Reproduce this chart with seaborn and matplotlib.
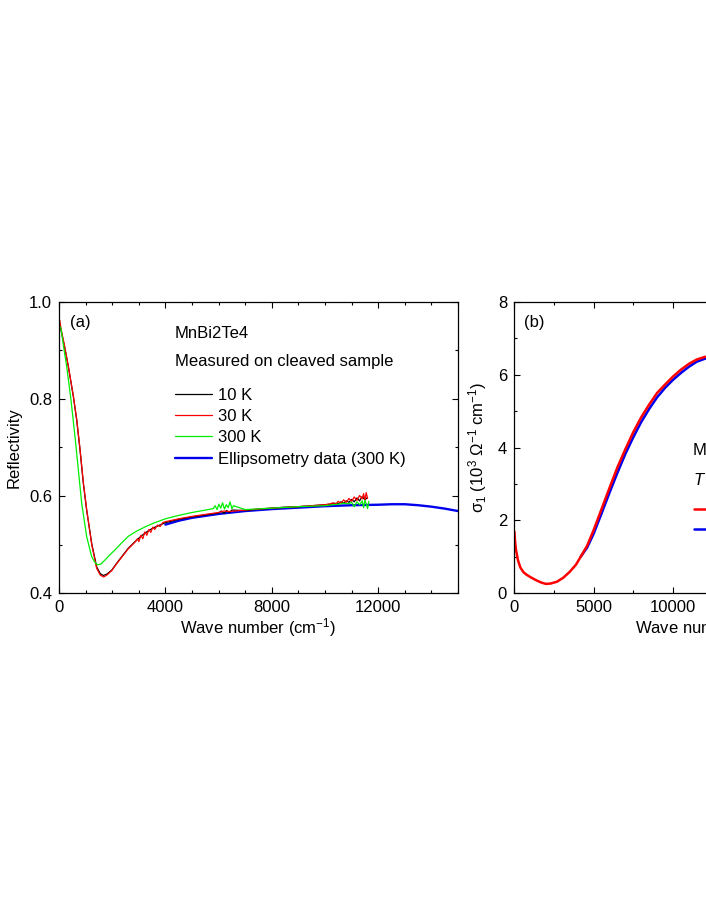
import matplotlib
matplotlib.use("Agg")
import matplotlib.pyplot as plt
from matplotlib.ticker import MultipleLocator
import seaborn as sns

# (a) reflectivity
WN_10K = [30, 75, 200, 350, 540, 665, 790, 915, 1040, 1230, 1415, 1550, 1666, 1800, 1980,
          2150, 2360, 2600, 2860, 3100, 3300, 3500, 3700, 4000, 4500, 5000, 5500, 6000, 6100,
          6200, 6300, 6400, 6500, 7000, 7500, 8000, 8500, 9000, 9500, 10000, 10200, 10350,
          10500, 10600, 10700, 10800, 10900, 11000, 11100, 11200, 11300, 11400, 11500, 11600]
R_10K = [0.955, 0.942, 0.91, 0.867, 0.805, 0.757, 0.695, 0.626, 0.571, 0.502, 0.454, 0.440,
         0.436, 0.439, 0.447, 0.460, 0.475, 0.492, 0.506, 0.518, 0.526, 0.533, 0.538, 0.545,
         0.552, 0.557, 0.561, 0.565, 0.569, 0.564, 0.570, 0.566, 0.571, 0.570, 0.573, 0.575,
         0.577, 0.578, 0.580, 0.582, 0.583, 0.585, 0.584, 0.588, 0.585, 0.590, 0.587, 0.593,
         0.588, 0.596, 0.590, 0.599, 0.592, 0.597]

WN_30K = [30, 75, 200, 350, 540, 665, 790, 915, 1040, 1230, 1415, 1550, 1680, 1800, 1980,
          2150, 2360, 2600, 2860, 2950, 3000, 3080, 3150, 3230, 3300, 3380, 3450, 3530, 3600,
          3700, 3800, 3900, 4000, 4500, 5000, 5500, 6000, 6200, 6400, 7000, 8000, 9000, 10000,
          10200, 10300, 10400, 10500, 10600, 10700, 10800, 10900, 11000, 11100, 11200, 11300,
          11400, 11450, 11500, 11550, 11600]
R_30K = [0.962, 0.945, 0.912, 0.868, 0.806, 0.758, 0.697, 0.628, 0.572, 0.500, 0.451, 0.437,
         0.433, 0.437, 0.446, 0.459, 0.474, 0.491, 0.505, 0.512, 0.506, 0.519, 0.512, 0.526,
         0.519, 0.531, 0.525, 0.536, 0.531, 0.540, 0.537, 0.545, 0.547, 0.553, 0.558, 0.562,
         0.566, 0.569, 0.568, 0.571, 0.575, 0.578, 0.582, 0.584, 0.586, 0.583, 0.589, 0.585,
         0.592, 0.587, 0.595, 0.589, 0.598, 0.591, 0.601, 0.594, 0.605, 0.592, 0.607, 0.595]

WN_300K = [30, 75, 180, 289, 451, 602, 727, 853, 1041, 1228, 1350, 1454, 1580, 1729, 1900,
           2105, 2350, 2607, 2900, 3260, 3600, 4000, 4500, 5000, 5500, 5800, 5870, 5940, 6010,
           6080, 6150, 6220, 6290, 6360, 6430, 6500, 6560, 7000, 8000, 9000, 10000, 10300,
           10500, 10700, 10900, 11000, 11100, 11200, 11300, 11400, 11450, 11500, 11550, 11600,
           11650]
R_300K = [0.950, 0.945, 0.905, 0.867, 0.798, 0.722, 0.654, 0.585, 0.516, 0.475, 0.463, 0.458,
          0.460, 0.468, 0.478, 0.489, 0.503, 0.517, 0.527, 0.537, 0.545, 0.553, 0.560, 0.566,
          0.571, 0.574, 0.580, 0.572, 0.583, 0.575, 0.586, 0.573, 0.582, 0.576, 0.588, 0.574,
          0.580, 0.572, 0.575, 0.578, 0.580, 0.582, 0.583, 0.585, 0.584, 0.587, 0.578, 0.588,
          0.582, 0.590, 0.576, 0.591, 0.584, 0.574, 0.589]

WN_ELL = [4000, 4500, 5000, 6000, 7000, 8000, 9000, 10000, 11000, 12000, 12500, 13000,
          13500, 14000, 14500, 15000]
R_ELL = [0.541, 0.549, 0.555, 0.563, 0.569, 0.573, 0.576, 0.579, 0.581, 0.582, 0.583, 0.583,
         0.581, 0.578, 0.574, 0.569]

# (b) optical conductivity, 10^3 Ohm^-1 cm^-1
WN_S1_RED = [30, 60, 120, 250, 400, 600, 800, 1100, 1400, 1700, 2000, 2300, 2700, 3100, 3500,
             3900, 4200, 4600, 5000, 5500, 6000, 6500, 7000, 7500, 8000, 8500, 9000, 9500,
             10000, 10500, 11000, 11500, 12000, 12500, 13000]
S1_RED = [1.68, 1.45, 1.2, 0.9, 0.7, 0.57, 0.5, 0.42, 0.35, 0.29, 0.25, 0.26, 0.31, 0.42,
          0.58, 0.78, 1.0, 1.3, 1.72, 2.3, 2.88, 3.45, 3.95, 4.42, 4.83, 5.18, 5.5, 5.73, 5.95,
          6.14, 6.3, 6.42, 6.49, 6.52, 6.5]
WN_S1_BLUE = [4200, 4600, 5000, 5500, 6000, 6500, 7000, 7500, 8000, 8500, 9000, 9500, 10000,
              10500, 11000, 11500, 12000, 12500, 13000]
S1_BLUE = [1.0, 1.25, 1.62, 2.18, 2.75, 3.3, 3.82, 4.28, 4.7, 5.06, 5.38, 5.64, 5.86, 6.05,
           6.22, 6.36, 6.44, 6.48, 6.48]

sns.set_style("ticks")
plt.rcParams["font.family"] = ["Liberation Sans", "DejaVu Sans"]
plt.rcParams["mathtext.fontset"] = "custom"
plt.rcParams["mathtext.rm"] = "Liberation Sans"
plt.rcParams["mathtext.it"] = "Liberation Sans:italic"
plt.rcParams["font.size"] = 12
plt.rcParams["text.color"] = "black"
plt.rcParams["axes.labelcolor"] = "black"
plt.rcParams["xtick.color"] = "black"
plt.rcParams["ytick.color"] = "black"

W, H = 706, 913
fig = plt.figure(figsize=(W / 100, H / 100), dpi=100)
ax_a = fig.add_axes([59 / W, (H - 593) / H, 399 / W, 291 / H])
ax_b = fig.add_axes([514 / W, (H - 593) / H, 397.5 / W, 291 / H])

sns.lineplot(x=WN_10K, y=R_10K, ax=ax_a, color="black", lw=0.9, label="10 K",
             estimator=None, sort=False)
sns.lineplot(x=WN_30K, y=R_30K, ax=ax_a, color="red", lw=0.9, label="30 K",
             estimator=None, sort=False)
sns.lineplot(x=WN_300K, y=R_300K, ax=ax_a, color="#00ee00", lw=0.9, label="300 K",
             estimator=None, sort=False)
sns.lineplot(x=WN_ELL, y=R_ELL, ax=ax_a, color="#0000ee", lw=1.7,
             label="Ellipsometry data (300 K)", estimator=None, sort=False, zorder=1.5)

sns.lineplot(x=WN_S1_BLUE, y=S1_BLUE, ax=ax_b, color="#0000ee", lw=1.8,
             label="Ellipsometry", estimator=None, sort=False)
sns.lineplot(x=WN_S1_RED, y=S1_RED, ax=ax_b, color="red", lw=1.8,
             label="Kramers-Kronig", estimator=None, sort=False)

ax_a.set_xlim(0, 15000)
ax_a.set_ylim(0.4, 1.0)
ax_a.xaxis.set_major_locator(MultipleLocator(4000))
ax_a.xaxis.set_minor_locator(MultipleLocator(1000))
ax_a.yaxis.set_major_locator(MultipleLocator(0.2))
ax_a.yaxis.set_minor_locator(MultipleLocator(0.1))
ax_a.set_xlabel("Wave number (cm$^{-1}$)", labelpad=1)
ax_a.set_ylabel("Reflectivity", labelpad=5)

ax_b.set_xlim(0, 25000)
ax_b.set_ylim(0, 8)
ax_b.xaxis.set_major_locator(MultipleLocator(5000))
ax_b.xaxis.set_minor_locator(MultipleLocator(2500))
ax_b.yaxis.set_major_locator(MultipleLocator(2))
ax_b.yaxis.set_minor_locator(MultipleLocator(1))
ax_b.set_xlabel("Wave number (cm$^{-1}$)", labelpad=1)
ax_b.set_ylabel("σ$_1$ (10$^3$ Ω$^{-1}$ cm$^{-1}$)", labelpad=6)

for ax in (ax_a, ax_b):
    ax.tick_params(which="both", direction="in", top=True, right=True, width=0.8,
                   labelsize=12, pad=5)
    ax.tick_params(which="major", length=4)
    ax.tick_params(which="minor", length=2.5)
    for sp in ax.spines.values():
        sp.set_linewidth(0.9)
        sp.set_color("black")

ax_a.text(0.028, 0.931, "(a)", transform=ax_a.transAxes, va="center")
ax_b.text(0.025, 0.931, "(b)", transform=ax_b.transAxes, va="center")

ax_a.text(0.291, 0.893, "MnBi2Te4", transform=ax_a.transAxes, va="center")
ax_a.text(0.291, 0.794, "Measured on cleaved sample", transform=ax_a.transAxes, va="center")
ax_a.legend(loc="upper left", bbox_to_anchor=(0.291, 0.706), frameon=False,
            handlelength=2.2, handletextpad=0.4, labelspacing=0.38, borderpad=0,
            borderaxespad=0, fontsize=12)

ax_b.text(0.450, 0.491, "MnBi2Te4", transform=ax_b.transAxes, va="center")
ax_b.text(0.450, 0.388, "$T$ = 300 K", transform=ax_b.transAxes, va="center")
handles, labels = ax_b.get_legend_handles_labels()
ax_b.legend(handles[::-1], labels[::-1], loc="upper left", bbox_to_anchor=(0.453, 0.311),
            frameon=False, handlelength=2.2, handletextpad=0.4, labelspacing=0.32,
            borderpad=0, borderaxespad=0, fontsize=12)

fig.savefig("out.png", dpi=100)
